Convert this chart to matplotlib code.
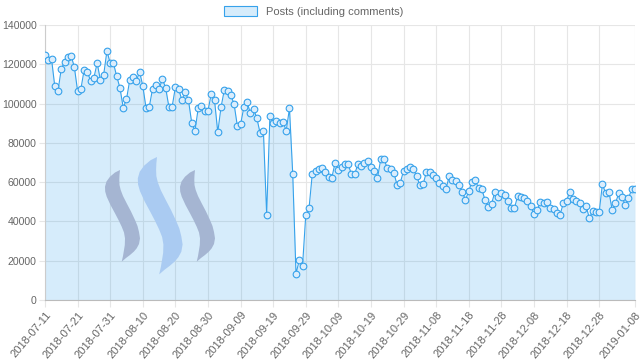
import numpy as np
import pandas as pd
import matplotlib
matplotlib.use('Agg')
import matplotlib.pyplot as plt
from matplotlib.patches import Polygon

plt.rcParams['font.family'] = ['Liberation Sans', 'DejaVu Sans']

# daily post counts (including comments), 2018-07-11 .. 2019-01-08
posts = [
    124500, 122000, 122800, 108800, 106600, 117800, 121200, 123500, 124400, 118600,
    106400, 107300, 117100, 116000, 111600, 113200, 120600, 112000, 114700, 126800,
    120600, 120500, 113900, 107900, 97900, 102200, 112000, 113700, 111300, 116200,
    109100, 97600, 98400, 107600, 109600, 107300, 112500, 108100, 98400, 98400,
    108300, 107300, 101800, 106000, 101800, 90300, 86000, 97600, 98900, 96400,
    96400, 104900, 101800, 85400, 98100, 106900, 106600, 104200, 99800, 88700,
    89400, 98100, 100900, 95000, 97200, 92500, 84900, 86000, 43500, 93700,
    90300, 91300, 90200, 90800, 86200, 97600, 64100, 13400, 20200, 17300,
    43300, 46700, 64300, 65500, 66500, 67000,
    65400, 62800, 62300, 69900, 66200, 67500, 69200, 69200, 64000, 64100,
    69200, 68200, 69600, 70800, 67500, 65500, 62100, 71600, 71900, 67000,
    66700, 64800, 58700, 59700, 65800, 66700, 67900, 66900, 63100, 58400,
    59000, 65000, 65000, 63600, 62300, 59400, 58000, 56400, 63100, 61100,
    60700, 58500, 55100, 50900, 55500, 60200, 61100, 56900, 56400, 50900,
    47500, 48900, 55100, 52600, 54600, 53500, 50500, 46700, 46700, 52900,
    52300, 51800, 50500, 47900, 43800, 45800, 50000, 49200, 49700, 46700,
    46200, 44100, 43300, 49200, 50500, 55100, 51300, 50500, 49200, 46200,
    47900, 41600, 45300, 44600, 44600, 59000, 54300, 55100, 45800, 49200,
    54300, 52600, 48400, 51800, 56400, 56400,
]
tick_labels = ['2018-07-11', '2018-07-21', '2018-07-31', '2018-08-10', '2018-08-20',
               '2018-08-30', '2018-09-09', '2018-09-19', '2018-09-29', '2018-10-09',
               '2018-10-19', '2018-10-29', '2018-11-08', '2018-11-18', '2018-11-28',
               '2018-12-08', '2018-12-18', '2018-12-28', '2019-01-08']
label = 'Posts (including comments)'

dates = pd.date_range('2018-07-11', periods=len(posts), freq='D')
tick_dates = pd.to_datetime(tick_labels)

blue = (54/255, 162/255, 235/255)
fill = (54/255, 162/255, 235/255, 0.2)
grid_c = '#e6e6e6'
text_c = '#666666'

fig = plt.figure(figsize=(6.4, 3.61), dpi=100)
ax = fig.add_axes([45/640, 61/361, 590/640, 275/361])

ax.fill_between(dates, posts, 0, color=fill, lw=0, zorder=2, label=label)
ax.plot(dates, posts, color=blue, lw=0.8, zorder=4)
ax.plot(dates, posts, ls='none', marker='o', ms=4.8, mfc=(0.86, 0.93, 0.99),
        mec=blue, mew=0.8, zorder=5)

# steem logo watermark (outline in pixels relative to the top tip)
s_shape = np.array([
    (0, 0), (-5, 2.5), (-10, 6.7), (-13.5, 11.5), (-15, 16.7), (-14.8, 21.5),
    (-13.3, 26.7), (-9.5, 35), (-5, 43.3), (-1.5, 50), (1.7, 56.7), (4, 62.5),
    (5, 68.3), (4.8, 75), (4, 80), (3, 86), (1.7, 91.7),
    (6, 88), (10, 85), (14, 81.5), (16.7, 78.3), (19, 74), (20, 68.3), (19, 62),
    (17.5, 56), (15, 50), (11, 41.5), (6.7, 33.3), (3, 26), (0.7, 20),
    (-0.5, 15), (-0.7, 10), (-0.5, 5),
])
for (px, py, sc, col) in [(120, 170, 1.0, '#a5b5d2'), (157, 157, 1.28, '#aacbf2'),
                          (195, 170, 1.0, '#a5b5d2')]:
    pts = [((px + sc * dx) / 640, 1 - (py + sc * dy) / 361) for dx, dy in s_shape]
    fig.patches.append(Polygon(pts, closed=True, transform=fig.transFigure,
                               facecolor=col, edgecolor='none', zorder=3))

ax.set_xlim(dates[0], dates[-1])
ax.set_ylim(0, 140000)
ax.set_yticks(np.arange(0, 140001, 20000))
ax.set_yticklabels([str(v) for v in range(0, 140001, 20000)])
ax.set_xticks(tick_dates)
ax.set_xticklabels(tick_labels, rotation=50, ha='right', rotation_mode='anchor')

ax.grid(True, color=grid_c, lw=0.8)
ax.set_axisbelow(True)
ax.tick_params(axis='both', colors=grid_c, labelcolor=text_c, labelsize=8,
               length=5, width=0.8, pad=2)
ax.tick_params(axis='y', labelsize=7.6, length=4)
for side in ['top', 'right']:
    ax.spines[side].set_visible(False)
ax.spines['left'].set_color('#cccccc')
ax.spines['bottom'].set_color('#bbbbbb')

leg = fig.legend(loc='upper center', bbox_to_anchor=(0.49, 1.01), frameon=False,
                 fontsize=8, handlelength=3.0, handleheight=0.9, labelcolor=text_c)
for h in leg.legend_handles:
    h.set_edgecolor(blue)
    h.set_linewidth(0.8)
    h.set_facecolor(fill)

fig.savefig('out.png', dpi=100)
